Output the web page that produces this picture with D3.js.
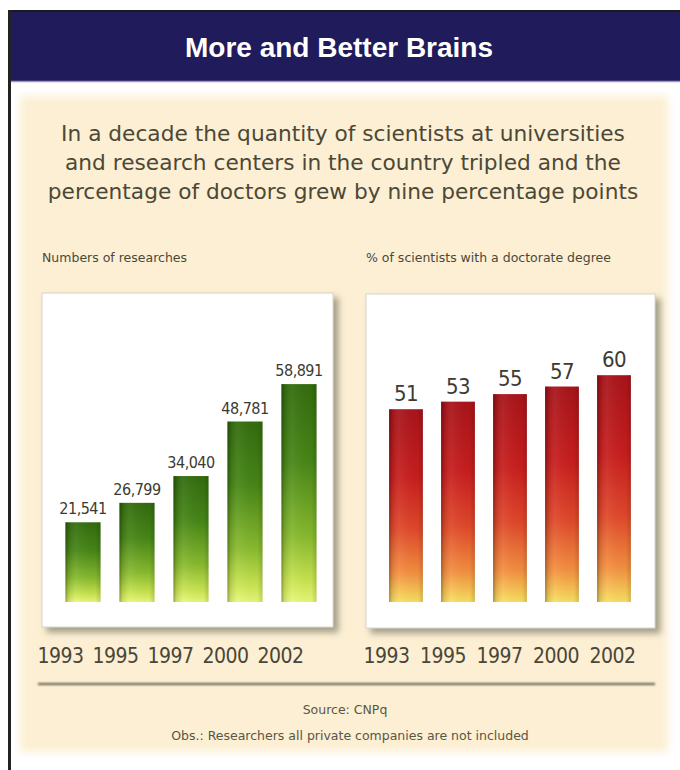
<!DOCTYPE html>
<html>
<head>
<meta charset="utf-8">
<script src="https://cdn.jsdelivr.net/npm/d3@7"></script>
<style>
  html, body { margin: 0; padding: 0; background: #ffffff; }
  svg { display: block; }
</style>
</head>
<body>
<svg id="chart" width="680" height="770"></svg>
<script>
// Data
const years = ["1993", "1995", "1997", "2000", "2002"];
const researchers = [21541, 26799, 34040, 48781, 58891];
const doctoratePct = [51, 53, 55, 57, 60];

const titleText = "More and Better Brains";
const subtitleLines = [
  "In a decade the quantity of scientists at universities",
  "and research centers in the country tripled and the",
  "percentage of doctors grew by nine percentage points"
];
const leftLabel = "Numbers of researches";
const rightLabel = "% of scientists with a doctorate degree";
const sourceText = "Source: CNPq";
const noteText = "Obs.: Researchers all private companies are not included";

const svg = d3.select("#chart");
const defs = svg.append("defs");

const condensed = "'DejaVu Sans Condensed', 'DejaVu Sans', sans-serif";
const wide = "'DejaVu Sans', Verdana, sans-serif";
const sans = "'Liberation Sans', Arial, sans-serif";

// Filters
const shadow = defs.append("filter").attr("id", "boxShadow")
  .attr("x", "-10%").attr("y", "-10%").attr("width", "130%").attr("height", "130%");
shadow.append("feDropShadow").attr("dx", 5).attr("dy", 5).attr("stdDeviation", 3)
  .attr("flood-color", "#8e8a78").attr("flood-opacity", 0.8);

const soft = defs.append("filter").attr("id", "soft")
  .attr("x", "-5%").attr("y", "-5%").attr("width", "110%").attr("height", "110%");
soft.append("feGaussianBlur").attr("stdDeviation", 4);

const lineBlur = defs.append("filter").attr("id", "lineBlur")
  .attr("filterUnits", "userSpaceOnUse")
  .attr("x", 0).attr("y", 670).attr("width", 680).attr("height", 30);
lineBlur.append("feGaussianBlur").attr("stdDeviation", 0.8);

// Gradients
function vGrad(id, stops) {
  const g = defs.append("linearGradient").attr("id", id)
    .attr("x1", 0).attr("y1", 0).attr("x2", 0).attr("y2", 1);
  stops.forEach(s => g.append("stop").attr("offset", s[0]).attr("stop-color", s[1]));
}
vGrad("greenGrad", [[0, "#336c0e"], [0.35, "#468616"], [0.7, "#88ba2e"], [0.9, "#c8e450"], [1, "#e8f878"]]);
vGrad("redGrad", [[0, "#a8141a"], [0.35, "#c81e1e"], [0.62, "#e0482a"], [0.85, "#f49040"], [1, "#f8e060"]]);

const hShade = defs.append("linearGradient").attr("id", "hShade")
  .attr("x1", 0).attr("y1", 0).attr("x2", 1).attr("y2", 0);
[[0, "#000", 0.35], [0.08, "#000", 0.12], [0.3, "#fff", 0.06], [0.85, "#000", 0.02], [1, "#000", 0.15]]
  .forEach(s => hShade.append("stop").attr("offset", s[0]).attr("stop-color", s[1]).attr("stop-opacity", s[2]));

// Frame: beige panel, header bar, black rules
svg.append("rect").attr("x", 20).attr("y", 96).attr("width", 648).attr("height", 656)
  .attr("fill", "#fcefd3").attr("filter", "url(#soft)");

svg.append("rect").attr("x", 10).attr("y", 11).attr("width", 670).attr("height", 70)
  .attr("fill", "#201b5b");
svg.append("line").attr("x1", 10).attr("x2", 680).attr("y1", 81.5).attr("y2", 81.5)
  .attr("stroke", "#9a98c4").attr("stroke-width", 1.5);
svg.append("line").attr("x1", 8).attr("x2", 680).attr("y1", 11).attr("y2", 11)
  .attr("stroke", "#1a1a1a").attr("stroke-width", 2);
svg.append("line").attr("x1", 9.5).attr("x2", 9.5).attr("y1", 10).attr("y2", 770)
  .attr("stroke", "#222").attr("stroke-width", 3);

svg.append("text").attr("x", 339).attr("y", 57).attr("text-anchor", "middle")
  .attr("fill", "#ffffff").attr("font-family", sans).attr("font-weight", "bold")
  .attr("font-size", 28).text(titleText);

svg.append("g").selectAll("text").data(subtitleLines).join("text")
  .attr("x", 343).attr("y", (d, i) => 141 + i * 29).attr("text-anchor", "middle")
  .attr("fill", "#4c4838").attr("font-family", wide).attr("font-size", 21.7)
  .text(d => d);

// Panels
function panel(opts) {
  const g = svg.append("g");
  g.append("text").attr("x", opts.box[0]).attr("y", 262)
    .attr("fill", "#4c4838").attr("font-family", wide).attr("font-size", 12.5)
    .text(opts.label);

  g.append("rect").attr("x", opts.box[0]).attr("y", opts.box[1])
    .attr("width", opts.box[2] - opts.box[0]).attr("height", opts.box[3] - opts.box[1])
    .attr("fill", "#ffffff").attr("stroke", "#d8d4c8").attr("stroke-width", 1)
    .attr("filter", "url(#boxShadow)");

  const x = d3.scaleBand().domain(years).range(opts.xRange)
    .paddingInner(0.35).paddingOuter(0.175);
  const y = d3.scaleLinear().domain(opts.yDomain).range([602, opts.yTop]);

  const rows = years.map((yr, i) => ({ year: yr, value: opts.values[i] }));

  g.append("g").selectAll("rect").data(rows).join("rect")
    .attr("x", d => x(d.year)).attr("y", d => y(d.value))
    .attr("width", x.bandwidth()).attr("height", d => y(0) - y(d.value))
    .attr("fill", `url(#${opts.grad})`);
  g.append("g").selectAll("rect").data(rows).join("rect")
    .attr("x", d => x(d.year)).attr("y", d => y(d.value))
    .attr("width", x.bandwidth()).attr("height", d => y(0) - y(d.value))
    .attr("fill", "url(#hShade)");

  g.append("g").selectAll("text").data(rows).join("text")
    .attr("x", d => x(d.year) + x.bandwidth() / 2)
    .attr("y", d => y(d.value) - 8)
    .attr("text-anchor", "middle").attr("fill", "#3c3a34")
    .attr("font-family", condensed).attr("font-size", opts.valueSize)
    .attr("letter-spacing", -0.5)
    .text(d => opts.fmt(d.value));

  // Year labels along the bottom
  const xl = d3.scalePoint().domain(years).range(opts.labelRange);
  const axis = g.append("g").attr("transform", "translate(0,648)")
    .call(d3.axisBottom(xl).tickSize(0).tickPadding(0));
  axis.select(".domain").remove();
  axis.selectAll("text").attr("fill", "#4a4638")
    .attr("font-family", condensed).attr("font-size", 21).attr("letter-spacing", -0.5)
    .attr("dy", "0.71em");
}

panel({
  label: leftLabel, box: [42, 293, 333, 627], xRange: [56, 326],
  values: researchers, yDomain: [0, 60000], yTop: 380, grad: "greenGrad",
  valueSize: 16, fmt: d3.format(","), labelRange: [60, 280]
});
panel({
  label: rightLabel, box: [366, 294, 655, 628], xRange: [380, 640],
  values: doctoratePct, yDomain: [0, 100], yTop: 224, grad: "redGrad",
  valueSize: 22, fmt: d => String(d), labelRange: [386, 612]
});

// Footer
svg.append("rect").attr("x", 38).attr("y", 683).attr("width", 617).attr("height", 2)
  .attr("fill", "#5e5a48").attr("filter", "url(#lineBlur)");
svg.append("text").attr("x", 345).attr("y", 714).attr("text-anchor", "middle")
  .attr("fill", "#5a5644").attr("font-family", wide).attr("font-size", 12.5).text(sourceText);
svg.append("text").attr("x", 350).attr("y", 740).attr("text-anchor", "middle")
  .attr("fill", "#5a5644").attr("font-family", wide).attr("font-size", 12.5).text(noteText);
</script>
</body>
</html>
